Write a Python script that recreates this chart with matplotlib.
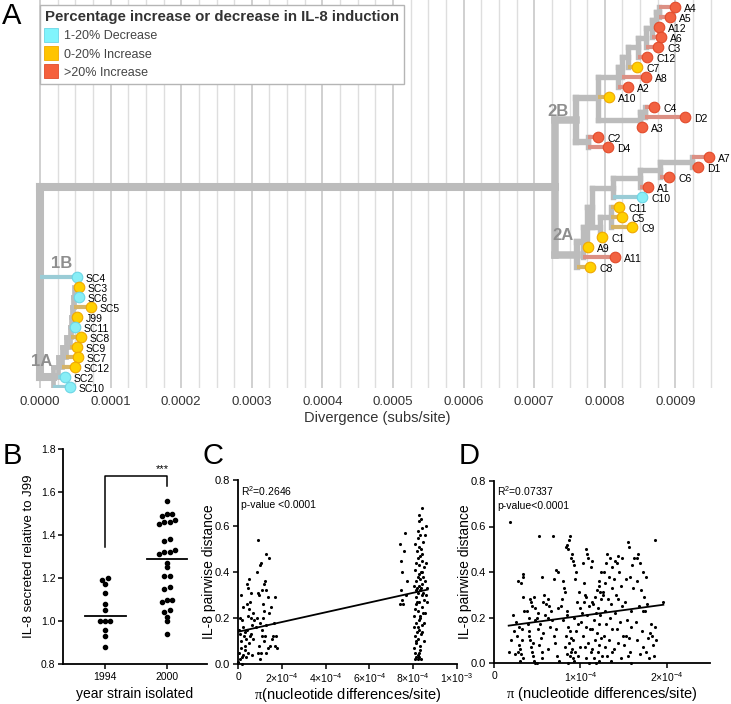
import numpy as np
import matplotlib.pyplot as plt
import matplotlib.ticker as ticker
from matplotlib.lines import Line2D

plt.rcParams["font.family"] = ["Liberation Sans", "DejaVu Sans"]
plt.rcParams["mathtext.fontset"] = "custom"
plt.rcParams["mathtext.rm"] = "Liberation Sans"
plt.rcParams["mathtext.it"] = "Liberation Serif"
plt.rcParams["mathtext.bf"] = "Liberation Sans:bold"

# ---------------- panel A: tree (divergence in 1e-4 subs/site) ----------------
tip_names = ["A4", "A5", "A12", "A6", "C3", "C12", "C7", "A8", "A2", "A10",
             "C4", "D2", "A3", "C2", "D4", "A7", "D1", "C6", "A1", "C10",
             "C11", "C5", "C9", "C1", "A9", "A11", "C8", "SC4", "SC3", "SC6",
             "SC5", "J99", "SC11", "SC8", "SC9", "SC7", "SC12", "SC2", "SC10"]
tip_div = [8.994, 8.924, 8.768, 8.796, 8.754, 8.598, 8.456, 8.584, 8.329, 8.059,
           8.697, 9.136, 8.527, 7.904, 8.045, 9.476, 9.320, 8.909, 8.612, 8.527,
           8.201, 8.244, 8.385, 7.960, 7.762, 8.144, 7.790, 0.524, 0.552, 0.552,
           0.722, 0.524, 0.496, 0.581, 0.524, 0.538, 0.496, 0.354, 0.425]
tip_group = ["high", "high", "high", "high", "high", "high", "inc", "high", "high", "inc",
             "high", "high", "high", "high", "high", "high", "high", "high", "high", "dec",
             "inc", "inc", "inc", "inc", "inc", "high", "inc", "dec", "inc", "dec",
             "inc", "inc", "dec", "inc", "inc", "inc", "inc", "dec", "dec"]

node_names = ["root", "clade2", "2B", "upper", "U1", "U2", "U3", "U4", "U5", "U6",
              "U7", "U8", "G3", "G4", "CD", "2A", "Q1", "Q2", "Q3", "S1", "S2",
              "R2", "R3", "R4", "R5", "1A", "P1", "P2", "P3", "P4", "P5", "P6",
              "P7", "P8"]
node_div = [0.0, 7.295, 7.592, 7.904, 8.187, 8.244, 8.329, 8.470, 8.584, 8.669,
            8.725, 8.768, 8.499, 8.569, 7.762, 7.606, 7.691, 7.748, 7.819, 7.932,
            8.088, 8.116, 8.499, 8.782, 9.235, 0.184, 0.255, 0.312, 0.368, 0.425,
            0.439, 0.453, 0.467, 0.482]
node_children = [["clade2", "SC4", "1A"], ["2B", "2A"], ["upper", "CD"],
                 ["U1", "A10", "G3"], ["U2", "A2"], ["U3", "A8"], ["U4", "C7"],
                 ["U5", "C12"], ["U6", "C3"], ["U7", "A6"], ["U8", "A12"],
                 ["A4", "A5"], ["G4", "A3"], ["C4", "D2"], ["C2", "D4"],
                 ["Q1", "C8"], ["Q2", "A11"], ["Q3", "A9"], ["R2", "S1"],
                 ["S2", "C1"], ["C11", "C5", "C9"], ["R3", "C10"], ["R4", "A1"],
                 ["R5", "C6"], ["A7", "D1"], ["P1", "SC10"], ["P2", "SC2"],
                 ["P3", "SC12"], ["P4", "SC7"], ["P5", "SC9"], ["P6", "SC8"],
                 ["P7", "SC11"], ["P8", "J99"], ["SC3", "SC6", "SC5"]]

clade_labels = ["1A", "1B", "2A", "2B"]
clade_anchor = ["1A", "SC4", "2A", "2B"]

legend_labels = ["1-20% Decrease", "0-20% Increase", ">20% Increase"]
legend_groups = ["dec", "inc", "high"]

# ---------------- panel B ----------------
b_groups = ["1994", "2000"]
b_1994 = [1.20, 1.19, 1.17, 1.13, 1.08, 1.05, 1.00, 1.00, 1.00, 0.96, 0.93, 0.88]
b_2000 = [1.56, 1.50, 1.50, 1.49, 1.47, 1.46, 1.46, 1.45, 1.38, 1.37, 1.33, 1.32,
          1.32, 1.31, 1.27, 1.25, 1.21, 1.21, 1.16, 1.15, 1.10, 1.10, 1.09, 1.05,
          1.04, 1.02, 1.00, 0.94]

# ---------------- panel C (x in 1e-4) ----------------
c_points = [
    (0.10, 0.20), (0.20, 0.19), (0.30, 0.14), (0.15, 0.10), (0.05, 0.05), (0.10, 0.02),
    (0.20, 0.00), (0.25, 0.04), (0.30, 0.08), (0.35, 0.11), (0.40, 0.15), (0.45, 0.21),
    (0.40, 0.26), (0.50, 0.24), (0.55, 0.27), (0.60, 0.31), (0.50, 0.37), (0.40, 0.35),
    (0.45, 0.33), (0.30, 0.06), (0.35, 0.03), (0.45, 0.05), (0.50, 0.09), (0.55, 0.12),
    (0.60, 0.13), (0.65, 0.17), (0.70, 0.22), (0.75, 0.19), (0.70, 0.11), (0.80, 0.16),
    (0.85, 0.40), (0.90, 0.54), (0.95, 0.30), (1.00, 0.43), (1.05, 0.44), (1.10, 0.12),
    (1.05, 0.05), (0.95, 0.08), (0.90, 0.05), (1.00, 0.02), (1.15, 0.20), (1.20, 0.23),
    (1.15, 0.26), (1.10, 0.32), (1.20, 0.35), (1.25, 0.36), (1.30, 0.48), (1.40, 0.46),
    (1.30, 0.32), (1.35, 0.29), (1.40, 0.22), (1.30, 0.17), (1.25, 0.12), (1.20, 0.10),
    (1.35, 0.07), (1.30, 0.05), (1.45, 0.08), (1.50, 0.25), (1.55, 0.11), (1.60, 0.12),
    (1.70, 0.29), (1.75, 0.12), (1.80, 0.07), (1.70, 0.08), (1.65, 0.18), (0.15, 0.30),
    (0.08, 0.13), (0.12, 0.07), (0.02, 0.01), (0.25, 0.16), (0.28, 0.12), (0.05, 0.15),
    (0.18, 0.03), (0.60, 0.20), (0.65, 0.04), (1.00, 0.18), (1.10, 0.15), (0.90, 0.31),
    (0.85, 0.20), (0.22, 0.25),
    (7.40, 0.52), (7.45, 0.45), (7.50, 0.40), (7.45, 0.32), (7.50, 0.28), (7.55, 0.26),
    (7.62, 0.57), (7.65, 0.30), (7.70, 0.36), (7.40, 0.26), (7.60, 0.49),
    (8.10, 0.02), (8.20, 0.02), (8.15, 0.03), (8.25, 0.05), (8.05, 0.07), (8.30, 0.08),
    (8.12, 0.10), (8.22, 0.11), (8.08, 0.12), (8.35, 0.13), (8.18, 0.14), (8.28, 0.15),
    (8.02, 0.16), (8.40, 0.17), (8.15, 0.18), (8.25, 0.19), (8.32, 0.20), (8.05, 0.21),
    (8.45, 0.22), (8.20, 0.23), (8.10, 0.24), (8.38, 0.25), (8.28, 0.27), (8.50, 0.28),
    (8.15, 0.29), (8.42, 0.30), (8.22, 0.31), (8.30, 0.32), (8.35, 0.33), (8.18, 0.33),
    (8.25, 0.34), (8.40, 0.35), (8.12, 0.36), (8.30, 0.37), (8.20, 0.38), (8.45, 0.38),
    (8.28, 0.39), (8.35, 0.40), (8.08, 0.41), (8.50, 0.42), (8.25, 0.43), (8.15, 0.44),
    (8.38, 0.45), (8.22, 0.46), (8.30, 0.47), (8.42, 0.48), (8.18, 0.49), (8.35, 0.50),
    (8.28, 0.51), (8.10, 0.52), (8.45, 0.53), (8.22, 0.55), (8.32, 0.56), (8.55, 0.56),
    (8.20, 0.58), (8.40, 0.59), (8.60, 0.60), (8.28, 0.62), (8.35, 0.63), (8.25, 0.65),
    (8.42, 0.68), (8.20, 0.04), (8.32, 0.06), (8.15, 0.09), (8.40, 0.14), (8.48, 0.18),
    (8.55, 0.22), (8.12, 0.26), (8.60, 0.30), (8.05, 0.34), (8.52, 0.36), (8.38, 0.40),
    (8.58, 0.44), (8.15, 0.32), (8.45, 0.31), (8.62, 0.33), (8.65, 0.27), (8.10, 0.05),
    (8.28, 0.03), (8.35, 0.02), (8.48, 0.10), (8.22, 0.16), (8.30, 0.21), (8.18, 0.27)]
c_fit = (0.140, 0.0212)          # intercept, slope per 1e-4
c_stats = ["R$^2$=0.2646", "p-value <0.0001"]

# ---------------- panel D (x in 1e-4) ----------------
d_points = [
    (0.18, 0.62), (0.17, 0.05), (0.20, 0.10), (0.22, 0.21), (0.24, 0.04), (0.25, 0.18),
    (0.23, 0.14), (0.28, 0.36), (0.31, 0.35), (0.33, 0.38), (0.34, 0.39), (0.29, 0.16),
    (0.27, 0.12), (0.28, 0.05), (0.31, 0.04), (0.30, 0.01), (0.33, 0.29), (0.35, 0.23),
    (0.32, 0.10), (0.29, 0.08), (0.34, 0.02), (0.32, 0.15), (0.30, 0.06), (0.38, 0.23),
    (0.42, 0.28), (0.43, 0.27), (0.44, 0.25), (0.40, 0.20), (0.39, 0.17), (0.41, 0.14),
    (0.40, 0.12), (0.42, 0.10), (0.43, 0.07), (0.44, 0.05), (0.45, 0.03), (0.46, 0.01),
    (0.48, 0.00), (0.47, 0.19), (0.45, 0.09), (0.46, 0.29), (0.48, 0.24), (0.52, 0.56),
    (0.55, 0.38), (0.58, 0.30), (0.57, 0.27), (0.51, 0.22), (0.50, 0.20), (0.53, 0.17),
    (0.51, 0.15), (0.54, 0.11), (0.52, 0.08), (0.56, 0.05), (0.55, 0.02), (0.60, 0.26),
    (0.59, 0.21), (0.57, 0.13), (0.50, 0.00), (0.68, 0.56), (0.72, 0.41), (0.74, 0.40),
    (0.70, 0.37), (0.64, 0.25), (0.66, 0.23), (0.62, 0.20), (0.67, 0.19), (0.65, 0.16),
    (0.69, 0.12), (0.71, 0.09), (0.63, 0.06), (0.73, 0.03), (0.75, 0.01), (0.74, 0.24),
    (0.72, 0.15), (0.62, 0.28), (0.88, 0.56), (0.87, 0.54), (0.84, 0.52), (0.83, 0.51),
    (0.86, 0.50), (0.80, 0.36), (0.81, 0.33), (0.82, 0.31), (0.79, 0.28), (0.78, 0.25),
    (0.85, 0.23), (0.84, 0.21), (0.80, 0.19), (0.86, 0.16), (0.88, 0.14), (0.83, 0.12),
    (0.89, 0.11), (0.87, 0.09), (0.82, 0.07), (0.90, 0.06), (0.89, 0.05), (0.84, 0.04),
    (0.88, 0.03), (0.91, 0.02), (0.86, 0.00), (0.89, 0.46), (0.90, 0.48), (0.92, 0.45),
    (0.93, 0.43), (0.95, 0.40), (0.94, 0.37), (0.98, 0.31), (0.96, 0.27), (0.99, 0.24),
    (0.93, 0.20), (0.97, 0.17), (0.95, 0.14), (0.92, 0.10), (0.99, 0.07), (0.94, 0.05),
    (0.97, 0.03), (0.93, 0.01), (1.07, 0.50), (1.08, 0.48), (1.09, 0.46), (1.03, 0.44),
    (1.05, 0.30), (1.06, 0.29), (1.04, 0.27), (1.10, 0.25), (1.02, 0.22), (1.08, 0.21),
    (1.01, 0.18), (1.06, 0.16), (1.11, 0.15), (1.03, 0.12), (1.09, 0.09), (1.05, 0.07),
    (1.12, 0.05), (1.07, 0.02), (1.10, 0.00), (1.12, 0.42), (1.04, 0.35), (1.14, 0.45),
    (1.22, 0.36), (1.21, 0.34), (1.19, 0.32), (1.23, 0.31), (1.17, 0.29), (1.24, 0.28),
    (1.15, 0.26), (1.20, 0.24), (1.18, 0.22), (1.23, 0.21), (1.16, 0.19), (1.21, 0.17),
    (1.13, 0.15), (1.19, 0.13), (1.24, 0.11), (1.17, 0.10), (1.22, 0.08), (1.14, 0.06),
    (1.20, 0.05), (1.25, 0.03), (1.16, 0.02), (1.21, 0.01), (1.18, 0.00), (1.24, 0.40),
    (1.13, 0.27), (1.31, 0.48), (1.34, 0.46), (1.30, 0.44), (1.36, 0.42), (1.27, 0.40),
    (1.33, 0.38), (1.29, 0.35), (1.37, 0.33), (1.26, 0.30), (1.32, 0.28), (1.35, 0.26),
    (1.28, 0.23), (1.34, 0.20), (1.30, 0.17), (1.37, 0.15), (1.27, 0.12), (1.33, 0.10),
    (1.29, 0.07), (1.36, 0.05), (1.31, 0.03), (1.35, 0.01), (1.26, 0.31), (1.43, 0.47),
    (1.40, 0.45), (1.42, 0.44), (1.45, 0.40), (1.39, 0.37), (1.47, 0.34), (1.41, 0.30),
    (1.44, 0.28), (1.48, 0.25), (1.40, 0.22), (1.46, 0.18), (1.42, 0.15), (1.49, 0.12),
    (1.44, 0.09), (1.39, 0.06), (1.47, 0.02), (1.48, 0.46), (1.55, 0.53), (1.56, 0.51),
    (1.60, 0.43), (1.57, 0.38), (1.53, 0.37), (1.61, 0.33), (1.52, 0.27), (1.58, 0.23),
    (1.54, 0.19), (1.59, 0.16), (1.56, 0.11), (1.51, 0.08), (1.57, 0.05), (1.55, 0.03),
    (1.58, 0.00), (1.62, 0.46), (1.53, 0.12), (1.67, 0.48), (1.65, 0.46), (1.69, 0.44),
    (1.72, 0.40), (1.66, 0.36), (1.70, 0.32), (1.74, 0.29), (1.68, 0.25), (1.73, 0.23),
    (1.64, 0.18), (1.71, 0.14), (1.66, 0.10), (1.73, 0.07), (1.69, 0.04), (1.86, 0.54),
    (1.76, 0.38), (1.77, 0.26), (1.75, 0.23), (1.82, 0.17), (1.86, 0.16), (1.80, 0.13),
    (1.83, 0.12), (1.78, 0.11), (1.84, 0.08), (1.76, 0.05), (1.85, 0.03), (1.79, 0.02),
    (1.87, 0.10), (1.96, 0.27)]
d_fit = (0.1555, 0.0513)
d_stats = ["R$^2$=0.07337", "p-value<0.0001"]

# ---------------- styles ----------------
GRAY = "#bcbcbc"
DOT = {"high": "#f26241", "inc": "#ffd000", "dec": "#88eef6"}
DOT_EDGE = {"high": "#e24b2b", "inc": "#f0a800", "dec": "#6cd6e6"}
BRANCH = {"high": "#dc9084", "inc": "#d6b468", "dec": "#9accd6"}
SQUARE = {"high": "#f5603c", "inc": "#ffc400", "dec": "#80f4fc"}

W, H = 731, 704
fig = plt.figure(figsize=(W / 100, H / 100), dpi=100)
fig.patch.set_facecolor("white")


def fbox(x0, y_top, x1, y_bot):
    return [x0 / W, 1 - y_bot / H, (x1 - x0) / W, (y_bot - y_top) / H]


# ================= A =================
ax = fig.add_axes(fbox(30, 0, 725, 388))
xpos = {n: v * 1e-4 for n, v in zip(tip_names, tip_div)}
xpos.update({n: v * 1e-4 for n, v in zip(node_names, node_div)})
kids = dict(zip(node_names, node_children))
group = dict(zip(tip_names, tip_group))
ypos = {n: i for i, n in enumerate(tip_names)}


def place(n):
    if n not in ypos:
        ys = [place(c) for c in kids[n]]
        ypos[n] = (ys[0] + ys[-1]) / 2
    return ypos[n]


place("root")

width = {"root": 5.8, "clade2": 5.4, "2B": 4.6, "2A": 4.6}
clade1_nodes = {"1A", "P1", "P2", "P3", "P4", "P5", "P6", "P7", "P8"}
for n in node_names:
    lw = width.get(n, 3.4 if n in clade1_nodes else 3.9)
    ys = [ypos[c] for c in kids[n]]
    ax.plot([xpos[n], xpos[n]], [min(ys), max(ys)], color=GRAY, lw=lw,
            solid_capstyle="projecting", zorder=2)
    for c in kids[n]:
        if c in kids:
            ax.plot([xpos[n], xpos[c]], [ypos[c], ypos[c]], color=GRAY, lw=lw,
                    solid_capstyle="projecting", zorder=2)
        else:
            ax.plot([xpos[n], xpos[c]], [ypos[c], ypos[c]], color=BRANCH[group[c]],
                    lw=3.0, solid_capstyle="butt", zorder=3)

for n in tip_names:
    g = group[n]
    ax.scatter(xpos[n], ypos[n], s=58, color=DOT[g], edgecolors=DOT_EDGE[g],
               linewidths=0.8, zorder=4, clip_on=False)
    ax.annotate(n, (xpos[n], ypos[n]), xytext=(6.5, -1.5), textcoords="offset points",
                fontsize=7.5, va="center", ha="left", zorder=5)

label_offset = {"1A": (-8, 11), "1B": (-11, 10), "2A": (-10, 14), "2B": (-13, 6)}
for lab, anchor in zip(clade_labels, clade_anchor):
    ax.annotate(lab, (xpos[anchor], ypos[anchor]), xytext=label_offset[lab],
                textcoords="offset points", fontsize=12, fontweight="bold",
                color="#8e8e8e", ha="center", va="center", zorder=6)

ax.set_xlim((30 - 40) / 706000, (725 - 40) / 706000)
ax.set_ylim(38.1, -0.7)
ax.xaxis.set_major_locator(ticker.MultipleLocator(1e-4))
ax.xaxis.set_minor_locator(ticker.MultipleLocator(0.25e-4))
ax.xaxis.set_major_formatter(ticker.FormatStrFormatter("%.4f"))
ax.grid(which="major", axis="x", color="#cdcdcd", lw=1.3)
ax.grid(which="minor", axis="x", color="#dedede", lw=1.0)
ax.set_axisbelow(True)
ax.tick_params(axis="x", which="both", length=0, pad=6, labelsize=9.5, labelcolor="#333333")
ax.set_yticks([])
for s in ax.spines.values():
    s.set_visible(False)
ax.set_xlabel("Divergence (subs/site)", fontsize=10.5, color="#333333", labelpad=2)

handles = [Line2D([], [], ls="", marker="s", ms=10, mfc=SQUARE[g],
                  mec=DOT_EDGE[g], mew=0.6) for g in legend_groups]
leg = ax.legend(handles, legend_labels,
                title="Percentage increase or decrease in IL-8 induction",
                loc="upper left", bbox_to_anchor=(40 / W, 1 - 5 / H),
                bbox_transform=fig.transFigure, borderaxespad=0,
                fontsize=9, title_fontproperties={"weight": "bold", "size": 10.8},
                alignment="left", frameon=True, fancybox=False, framealpha=1,
                edgecolor="#b5b5b5", handlelength=1.0, handletextpad=0.5,
                labelspacing=0.5, borderpad=0.4)
leg.get_title().set_color("#333333")
for t in leg.get_texts():
    t.set_color("#444444")
leg.get_frame().set_linewidth(1.0)
leg.set_zorder(10)

# ================= common axis style for B-D =================
def style(a):
    for side in ("top", "right"):
        a.spines[side].set_visible(False)
    for side in ("left", "bottom"):
        a.spines[side].set_linewidth(1.3)
    a.tick_params(direction="out", length=3.5, width=1.1, labelsize=8, pad=2)


# ================= B =================
axB = fig.add_axes(fbox(63, 449, 207, 664))
style(axB)


def swarm(vals, tol=0.016, step=0.085):
    vals = np.asarray(vals)
    order = np.argsort(vals)
    offs = np.zeros(len(vals))
    clusters = [[order[0]]]
    for i in order[1:]:
        if vals[i] - vals[clusters[-1][-1]] < tol:
            clusters[-1].append(i)
        else:
            clusters.append([i])
    for cl in clusters:
        for k, i in enumerate(cl):
            offs[i] = (k - (len(cl) - 1) / 2) * step
    return offs


for i, vals in enumerate([b_1994, b_2000]):
    axB.scatter(i + swarm(vals), vals, s=9, color="black", zorder=3, clip_on=False)
    med = np.median(vals)
    axB.plot([i - 0.33, i + 0.33], [med, med], color="black", lw=1.3, zorder=3)

top = 1.674
axB.plot([0, 0, 1, 1], [max(b_1994) + 0.145, top, top, max(b_2000) + 0.07],
         color="black", lw=1.1)
axB.text(0.93, top + 0.01, "***", ha="center", va="bottom", fontsize=8)

axB.set_xlim(-0.68, 1.645)
axB.set_ylim(0.8, 1.8)
axB.set_xticks([0, 1], b_groups)
axB.set_yticks(np.arange(0.8, 1.81, 0.2))
axB.yaxis.set_major_formatter(ticker.FormatStrFormatter("%.1f"))
axB.tick_params(labelsize=7.5)
axB.set_xlabel("year strain isolated", fontsize=10, labelpad=4)
axB.set_ylabel("IL-8 secreted relative to J99", fontsize=9.5, labelpad=4)

# ================= C =================
axC = fig.add_axes(fbox(238, 480, 457, 664))
style(axC)
cx = np.array([p[0] for p in c_points]) * 1e-4
cy = np.array([p[1] for p in c_points])
axC.scatter(cx, cy, s=5, color="black", lw=0, zorder=3, clip_on=False)
xl = np.array([0, cx.max()])
axC.plot(xl, c_fit[0] + c_fit[1] * xl * 1e4, color="black", lw=1.3, zorder=4)
axC.set_xlim(0, 1e-3)
axC.set_ylim(0, 0.8)
axC.set_xticks([0, 2e-4, 4e-4, 6e-4, 8e-4, 1e-3],
               ["0", r"$2{\times}10^{-4}$", r"$4{\times}10^{-4}$", r"$6{\times}10^{-4}$",
                r"$8{\times}10^{-4}$", r"$1{\times}10^{-3}$"])
axC.set_yticks(np.arange(0, 0.81, 0.2))
axC.yaxis.set_major_formatter(ticker.FormatStrFormatter("%.1f"))
axC.tick_params(axis="x", labelsize=7.5)
axC.set_xlabel(r"$\pi$(nucleotide differences/site)", fontsize=10.5, labelpad=1)
axC.set_ylabel("IL-8 pairwise distance", fontsize=10, labelpad=-1)
for k, s in enumerate(c_stats):
    axC.text(0.015, 0.94 - 0.076 * k, s, transform=axC.transAxes, fontsize=7.5, va="center")

# ================= D =================
axD = fig.add_axes(fbox(494, 481, 710, 663))
style(axD)
dx = np.array([p[0] for p in d_points]) * 1e-4
dy = np.array([p[1] for p in d_points])
axD.scatter(dx, dy, s=5, color="black", lw=0, zorder=3, clip_on=False)
xl = np.array([dx.min(), dx.max()])
axD.plot(xl, d_fit[0] + d_fit[1] * xl * 1e4, color="black", lw=1.3, zorder=4)
axD.set_xlim(0, 2.5e-4)
axD.set_ylim(0, 0.8)
axD.set_xticks([0, 1e-4, 2e-4], ["0", r"$1{\times}10^{-4}$", r"$2{\times}10^{-4}$"])
axD.set_yticks(np.arange(0, 0.81, 0.2))
axD.yaxis.set_major_formatter(ticker.FormatStrFormatter("%.1f"))
axD.tick_params(axis="x", labelsize=7.5)
axD.set_xlabel(r"$\pi$ (nucleotide differences/site)", fontsize=10.5, labelpad=1)
axD.set_ylabel("IL-8 pairwise distance", fontsize=10, labelpad=-1)
for k, s in enumerate(d_stats):
    axD.text(0.015, 0.94 - 0.076 * k, s, transform=axD.transAxes, fontsize=7.5, va="center")

# panel letters
for letter, (px, py) in zip("ABCD", [(12, 16), (12, 456), (213, 456), (469, 456)]):
    fig.text(px / W, 1 - py / H, letter, fontsize=21, ha="center", va="center")

fig.savefig("out.png", dpi=100, facecolor="white")
